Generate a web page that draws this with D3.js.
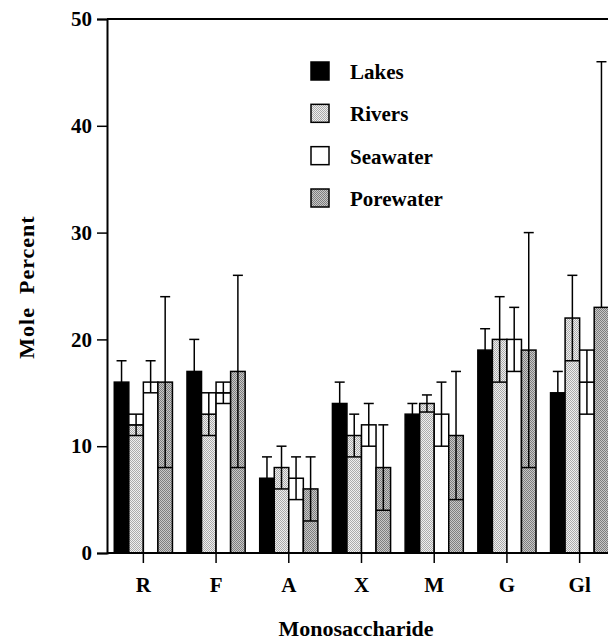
<!DOCTYPE html>
<html>
<head>
<meta charset="utf-8">
<script src="https://cdn.jsdelivr.net/npm/d3@7"></script>
<style>
  body { margin: 0; background: #fff; }
  text { font-family: "Liberation Serif", "Times New Roman", serif; font-weight: bold; fill: #000; }
</style>
</head>
<body>
<svg id="chart" width="608" height="641"></svg>
<script>
// monosaccharide composition, mole percent (mean, upper and lower error ends)
var categories = ["R", "F", "A", "X", "M", "G", "Gl"];
var series = ["Lakes", "Rivers", "Seawater", "Porewater"];

var lakesMean = [16, 17, 7, 14, 13, 19, 15];
var lakesHigh = [18, 20, 9, 16, 14, 21, 17];
var lakesLow  = [14, 14, 5, 12, 12, 17, 13];

var riversMean = [12, 13, 8, 11, 14, 20, 22];
var riversHigh = [13, 15, 10, 13, 14.8, 24, 26];
var riversLow  = [11, 11, 6, 9, 13.2, 16, 18];

var seawaterMean = [16, 15, 7, 12, 13, 20, 16];
var seawaterHigh = [18, 16, 9, 14, 16, 23, 19];
var seawaterLow  = [15, 14, 5, 10, 10, 17, 13];

var porewaterMean = [16, 17, 6, 8, 11, 19, 23];
var porewaterHigh = [24, 26, 9, 12, 17, 30, 46];
var porewaterLow  = [8, 8, 3, 4, 5, 8, 23];

// bars whose upper error is drawn as an open box instead of a T
var boxedAbove = [["Rivers", "R"], ["Rivers", "F"], ["Seawater", "F"], ["Seawater", "Gl"]];

var yTicks = [0, 10, 20, 30, 40, 50];

var means = { Lakes: lakesMean, Rivers: riversMean, Seawater: seawaterMean, Porewater: porewaterMean };
var highs = { Lakes: lakesHigh, Rivers: riversHigh, Seawater: seawaterHigh, Porewater: porewaterHigh };
var lows  = { Lakes: lakesLow, Rivers: riversLow, Seawater: seawaterLow, Porewater: porewaterLow };

var svg = d3.select("#chart");
var W = 608;
var plotLeft = 107, plotTop = 19, plotBottom = 553;

// stipple patterns
var defs = svg.append("defs");
function stipple(id, base, dot) {
    var p = defs.append("pattern").attr("id", id)
        .attr("width", 2).attr("height", 2)
        .attr("patternUnits", "userSpaceOnUse");
    p.append("rect").attr("width", 2).attr("height", 2).attr("fill", base);
    p.append("rect").attr("x", 0).attr("y", 0).attr("width", 1).attr("height", 1).attr("fill", dot);
    p.append("rect").attr("x", 1).attr("y", 1).attr("width", 1).attr("height", 1).attr("fill", dot);
}
stipple("rivers", "#efefef", "#ababab");
stipple("pore", "#c8c8c8", "#7e7e7e");

var fills = { Lakes: "#000", Rivers: "url(#rivers)", Seawater: "#fff", Porewater: "url(#pore)" };

var y = d3.scaleLinear().domain([0, 50]).range([plotBottom, plotTop]);
var x = d3.scaleBand().domain(categories)
    .range([plotLeft, plotLeft + 509])
    .paddingInner(0.2).paddingOuter(0.1);
var xs = d3.scaleBand().domain(series).range([0, x.bandwidth()]);

var bars = [];
series.forEach(function (s) {
    categories.forEach(function (c, i) {
        var boxed = boxedAbove.some(function (b) { return b[0] === s && b[1] === c; });
        bars.push({ s: s, c: c, mean: means[s][i], high: highs[s][i], low: lows[s][i], boxed: boxed });
    });
});

var g = svg.append("g");
var bw = xs.bandwidth();

bars.forEach(function (d) {
    var x0 = x(d.c) + xs(d.s);
    var cx = x0 + bw / 2;
    g.append("rect")
        .attr("x", x0).attr("y", y(d.mean))
        .attr("width", bw).attr("height", y(0) - y(d.mean))
        .attr("fill", fills[d.s]).attr("stroke", "#000").attr("stroke-width", 1.5);
    if (d.boxed) {
        g.append("rect")
            .attr("x", x0).attr("y", y(d.high))
            .attr("width", bw).attr("height", y(d.mean) - y(d.high))
            .attr("fill", "#fff").attr("stroke", "#000").attr("stroke-width", 1.5);
    }
    if (d.low < d.mean) {
        g.append("line")
            .attr("x1", x0).attr("x2", x0 + bw)
            .attr("y1", y(d.low)).attr("y2", y(d.low))
            .attr("stroke", "#000").attr("stroke-width", 1.5);
    }
    g.append("line")
        .attr("x1", cx).attr("x2", cx)
        .attr("y1", y(d.low)).attr("y2", y(d.high))
        .attr("stroke", "#000").attr("stroke-width", 1.5);
    if (!d.boxed) {
        g.append("line")
            .attr("x1", cx - 5).attr("x2", cx + 5)
            .attr("y1", y(d.high)).attr("y2", y(d.high))
            .attr("stroke", "#000").attr("stroke-width", 1.5);
    }
});

// frame
svg.append("line").attr("x1", plotLeft).attr("x2", W).attr("y1", plotTop).attr("y2", plotTop)
    .attr("stroke", "#000").attr("stroke-width", 2);

var yAxis = svg.append("g").attr("transform", "translate(" + plotLeft + ",0)")
    .call(d3.axisLeft(y).tickValues(yTicks).tickSize(10).tickPadding(5).tickFormat(d3.format("d")));
yAxis.select(".domain").attr("stroke-width", 2);
yAxis.selectAll(".tick line").attr("stroke-width", 1.5);
yAxis.selectAll("text").style("font-size", "21px");

var xAxis = svg.append("g").attr("transform", "translate(0," + plotBottom + ")")
    .call(d3.axisBottom(x).tickSize(10).tickPadding(8).tickSizeOuter(0));
xAxis.select(".domain").attr("d", "M" + plotLeft + ",0H" + W).attr("stroke-width", 2);
xAxis.selectAll(".tick line").attr("stroke-width", 1.5);
xAxis.selectAll("text").style("font-size", "21px").attr("dy", "1em");

svg.append("text")
    .attr("transform", "translate(34,287) rotate(-90)")
    .attr("text-anchor", "middle")
    .style("font-size", "22px").style("letter-spacing", "1px")
    .style("white-space", "pre")
    .text("Mole  Percent");

svg.append("text")
    .attr("x", 356).attr("y", 636)
    .attr("text-anchor", "middle")
    .style("font-size", "22px")
    .text("Monosaccharide");

// legend
var legend = svg.append("g");
var legendY = d3.scalePoint().domain(series).range([62, 189]);
series.forEach(function (s) {
    legend.append("rect")
        .attr("x", 311).attr("y", legendY(s))
        .attr("width", 18).attr("height", 18)
        .attr("fill", fills[s]).attr("stroke", "#000").attr("stroke-width", 1.5);
    legend.append("text")
        .attr("x", 350).attr("y", legendY(s) + 17)
        .style("font-size", "21px")
        .text(s);
});
</script>
</body>
</html>
